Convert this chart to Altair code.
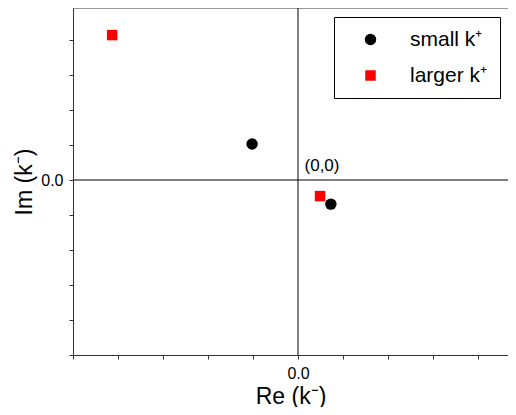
import altair as alt
import pandas as pd

series_names = ["small k⁺", "larger k⁺"]
small_re = [-1.02, 0.73]
small_im = [1.03, -0.69]
larger_re = [-4.13, 0.49]
larger_im = [4.14, -0.46]
x_ticks = [-5, -4, -3, -2, -1, 0, 1, 2, 3, 4]
y_ticks = [-5, -4, -3, -2, -1, 0, 1, 2, 3, 4]

df = pd.DataFrame({
    "re": small_re + larger_re,
    "im": small_im + larger_im,
    "series": [series_names[0]] * len(small_re) + [series_names[1]] * len(larger_re),
})
origin = pd.DataFrame({"re": [0.0], "im": [0.0], "label": ["(0,0)"]})

W, H = 435, 347
xdom = [-5, 210 / 45]
ydom = [-5, 172 / 35]

xs = alt.Scale(domain=xdom, nice=False, zero=False)
ys = alt.Scale(domain=ydom, nice=False, zero=False)

lab = "abs(datum.value) < 0.001 ? '0.0' : ''"
xaxis = alt.Axis(values=x_ticks, labelExpr=lab, titlePadding=4)
yaxis = alt.Axis(values=y_ticks, labelExpr=lab, titlePadding=4)
X = lambda: alt.X("re:Q", scale=xs, title="Re (k⁻)", axis=xaxis)
Y = lambda: alt.Y("im:Q", scale=ys, title="Im (k⁻)", axis=yaxis)

leg = alt.Legend(title=None, orient="none", legendX=261, legendY=9,
                 strokeColor="black", padding=12, symbolOffset=14,
                 labelOffset=29, rowPadding=14, labelFontSize=21,
                 symbolSize=115, labelColor="black",
                 labelExpr="datum.label + '\u00a0\u00a0'")

points = alt.Chart(df).mark_point(filled=True, opacity=1).encode(
    x=X(), y=Y(),
    color=alt.Color("series:N", scale=alt.Scale(domain=series_names, range=["black", "red"]),
                    legend=leg),
    shape=alt.Shape("series:N", scale=alt.Scale(domain=series_names, range=["circle", "square"]),
                    legend=leg),
    size=alt.Size("series:N", scale=alt.Scale(domain=series_names, range=[130, 110]), legend=None),
)

vrule = alt.Chart(origin).mark_rule(color="black", strokeWidth=1).encode(x=X())
hrule = alt.Chart(origin).mark_rule(color="black", strokeWidth=1).encode(y=Y())
top = alt.Chart(origin).mark_rule(color="#333", strokeWidth=1).encode(
    y=alt.value(0), x=alt.value(0), x2=alt.value(W))
text = alt.Chart(origin).mark_text(align="center", baseline="alphabetic", dx=24, dy=-9,
                                   fontSize=17, color="black").encode(
    x=X(), y=Y(), text="label:N")

chart = alt.layer(points, vrule, hrule, top, text).properties(
    width=W, height=H,
    autosize=alt.AutoSizeParams(type="none"),
    padding={"left": 65, "top": 0, "right": 0, "bottom": 52},
).configure_view(stroke=None).configure_axis(
    grid=False, tickSize=4, tickColor="#333", domainColor="#333",
    labelFontSize=16, titleFontSize=23, titleFontWeight="normal",
    labelColor="black", titleColor="black", labelFont="Liberation Sans",
    titleFont="Liberation Sans", labelPadding=6, labelOverlap=False, labelFlush=False,
).configure_legend(labelFont="Liberation Sans").configure_text(font="Liberation Sans")

chart.save("out.html", embed_options={"renderer": "svg", "actions": False})
